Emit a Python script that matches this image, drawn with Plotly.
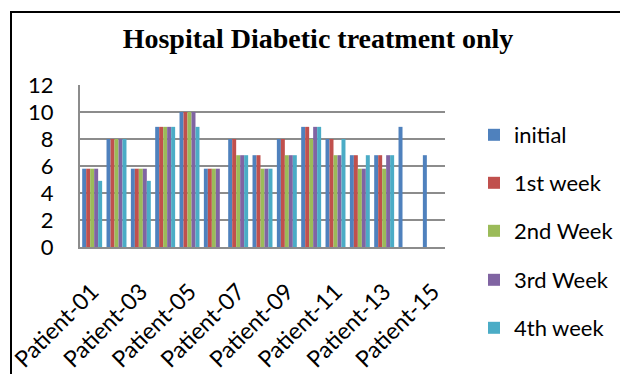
import plotly.graph_objects as go

# Blood sugar readings per patient over four weeks of hospital treatment
patients = [f"Patient-{i:02d}" for i in range(1, 16)]
shown_ticks = patients[::2]

initial = [5.8, 8, 5.8, 8.9, 10, 5.8, 8, 6.8, 8, 8.9, 8, 6.8, 6.8, 8.9, 6.8]
week1 = [5.8, 8, 5.8, 8.9, 10, 5.8, 8, 6.8, 8, 8.9, 8, 6.8, 6.8, None, None]
week2 = [5.8, 8, 5.8, 8.9, 10, 5.8, 6.8, 5.8, 6.8, 8, 6.8, 5.8, 5.8, None, None]
week3 = [5.8, 8, 5.8, 8.9, 10, 5.8, 6.8, 5.8, 6.8, 8.9, 6.8, 5.8, 6.8, None, None]
week4 = [4.9, 8, 4.9, 8.9, 8.9, None, 6.8, 5.8, 6.8, 8.9, 8, 6.8, 6.8, None, None]

series = [
    ("initial", initial, "#4F81BD"),
    ("1st week", week1, "#C0504D"),
    ("2nd Week", week2, "#9BBB59"),
    ("3rd Week", week3, "#8064A2"),
    ("4th week", week4, "#4BACC6"),
]

W, H = 620, 374
ML, MR, MT, MB = 80, 175, 85, 127
PW, PH = W - ML - MR, H - MT - MB


def px_x(p):
    return (p - ML) / PW


def px_y(p):
    return (H - MB - p) / PH


# one legend box per series so the entries can be spaced freely
legend_rows = [135, 183, 231, 280, 328]

fig = go.Figure()
legends = {}
for i, (name, vals, color) in enumerate(series):
    key = "legend" if i == 0 else f"legend{i + 1}"
    fig.add_trace(go.Bar(
        x=patients, y=vals, name=name,
        marker=dict(color=color, line=dict(width=0)),
        legend=key,
    ))
    legends[key] = dict(
        x=px_x(474), xanchor="left",
        y=px_y(legend_rows[i]), yanchor="middle",
        font=dict(family="Lato", size=22, color="#000000"),
        bgcolor="rgba(0,0,0,0)", itemclick=False, itemdoubleclick=False,
    )

fig.update_layout(
    width=W, height=H,
    margin=dict(l=ML, r=MR, t=MT, b=MB, autoexpand=False),
    paper_bgcolor="white", plot_bgcolor="white",
    barmode="group", bargap=0.18, bargroupgap=0,
    font=dict(family="Lato", size=22, color="#000000"),
    title=dict(
        text="<b>Hospital Diabetic treatment only</b>",
        font=dict(family="Liberation Serif", size=28, color="#000000"),
        x=318 / W, xanchor="center", xref="container",
        y=1 - 38 / H, yanchor="middle", yref="container",
    ),
    showlegend=True,
    xaxis=dict(
        type="category",
        categoryorder="array", categoryarray=patients,
        tickmode="array", tickvals=shown_ticks, ticktext=shown_ticks,
        tickangle=-45, ticks="", ticklabelstandoff=20,
        showgrid=False, showline=True, linecolor="#8c8c8c", linewidth=2,
        tickfont=dict(family="Lato", size=23, color="#000000"),
    ),
    yaxis=dict(
        range=[0, 12], dtick=2, tick0=0,
        showgrid=True, gridcolor="#8c8c8c", gridwidth=2,
        showline=True, linecolor="#8c8c8c", linewidth=2,
        zeroline=False, ticks="", ticklabelstandoff=20,
        tickfont=dict(family="Lato", size=22, color="#000000"),
    ),
    shapes=[dict(
        type="rect", xref="paper", yref="paper",
        x0=px_x(11), x1=px_x(W + 20), y0=px_y(H + 20), y1=px_y(12),
        line=dict(color="#000000", width=2), fillcolor="rgba(0,0,0,0)",
        layer="above",
    )],
    **legends,
)

fig.write_html("out.html")
